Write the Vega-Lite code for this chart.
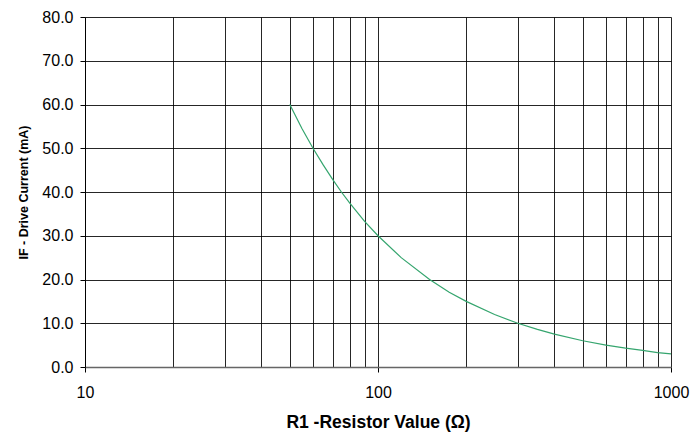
{
  "$schema": "https://vega.github.io/schema/vega-lite/v6.json",
  "width": 586,
  "height": 350,
  "autosize": {"type": "none"},
  "padding": {"left": 85, "top": 17, "right": 21, "bottom": 65},
  "background": "white",
  "config": {
    "view": {"stroke": null},
    "font": "Liberation Sans",
    "axis": {"labelFont": "Liberation Sans", "titleFont": "Liberation Sans", "labelColor": "#000", "titleColor": "#000"}
  },
  "data": {"values": [
    {"r": 50, "i": 60.0}, {"r": 55, "i": 54.5}, {"r": 60, "i": 50.0}, {"r": 65, "i": 46.2},
    {"r": 70, "i": 42.9}, {"r": 75, "i": 40.0}, {"r": 80, "i": 37.5}, {"r": 90, "i": 33.3},
    {"r": 100, "i": 30.0}, {"r": 120, "i": 25.0}, {"r": 150, "i": 20.0}, {"r": 175, "i": 17.1},
    {"r": 200, "i": 15.0}, {"r": 250, "i": 12.0}, {"r": 300, "i": 10.0}, {"r": 350, "i": 8.6},
    {"r": 400, "i": 7.5}, {"r": 500, "i": 6.0}, {"r": 600, "i": 5.0}, {"r": 700, "i": 4.3},
    {"r": 800, "i": 3.8}, {"r": 900, "i": 3.3}, {"r": 1000, "i": 3.0}
  ]},
  "mark": {"type": "line", "color": "#35a56e", "strokeWidth": 1.2},
  "encoding": {
    "x": {
      "field": "r", "type": "quantitative",
      "scale": {"type": "log", "domain": [10, 1000], "nice": false},
      "axis": {
        "values": [10, 20, 30, 40, 50, 60, 70, 80, 90, 100, 200, 300, 400, 500, 600, 700, 800, 900, 1000],
        "labelExpr": "(datum.value == 10 || datum.value == 100 || datum.value == 1000) ? datum.value : ''",
        "grid": true, "gridColor": "#000", "gridOpacity": 0.85, "gridWidth": 1,
        "tickColor": "#000", "tickSize": 5,
        "tickOpacity": {"condition": {"test": "datum.value == 10 || datum.value == 100 || datum.value == 1000", "value": 1}, "value": 0},
        "domainColor": "#666", "domainWidth": 1.5,
        "labelFontSize": 16, "labelPadding": 12, "labelFlush": false,
        "title": "R1 -Resistor Value (Ω)", "titleFontSize": 17.5, "titleFontWeight": "bold", "titlePadding": 13
      }
    },
    "y": {
      "field": "i", "type": "quantitative",
      "scale": {"domain": [0, 80], "nice": false},
      "axis": {
        "values": [0, 10, 20, 30, 40, 50, 60, 70, 80],
        "format": ".1f",
        "grid": true, "gridColor": "#000", "gridOpacity": 0.85, "gridWidth": 1,
        "tickColor": "#000", "tickSize": 5,
        "domainColor": "#000", "domainWidth": 1,
        "labelFontSize": 16, "labelPadding": 7,
        "title": "IF - Drive Current (mA)", "titleFontSize": 12.5, "titleFontWeight": "bold", "titlePadding": 11
      }
    }
  }
}
